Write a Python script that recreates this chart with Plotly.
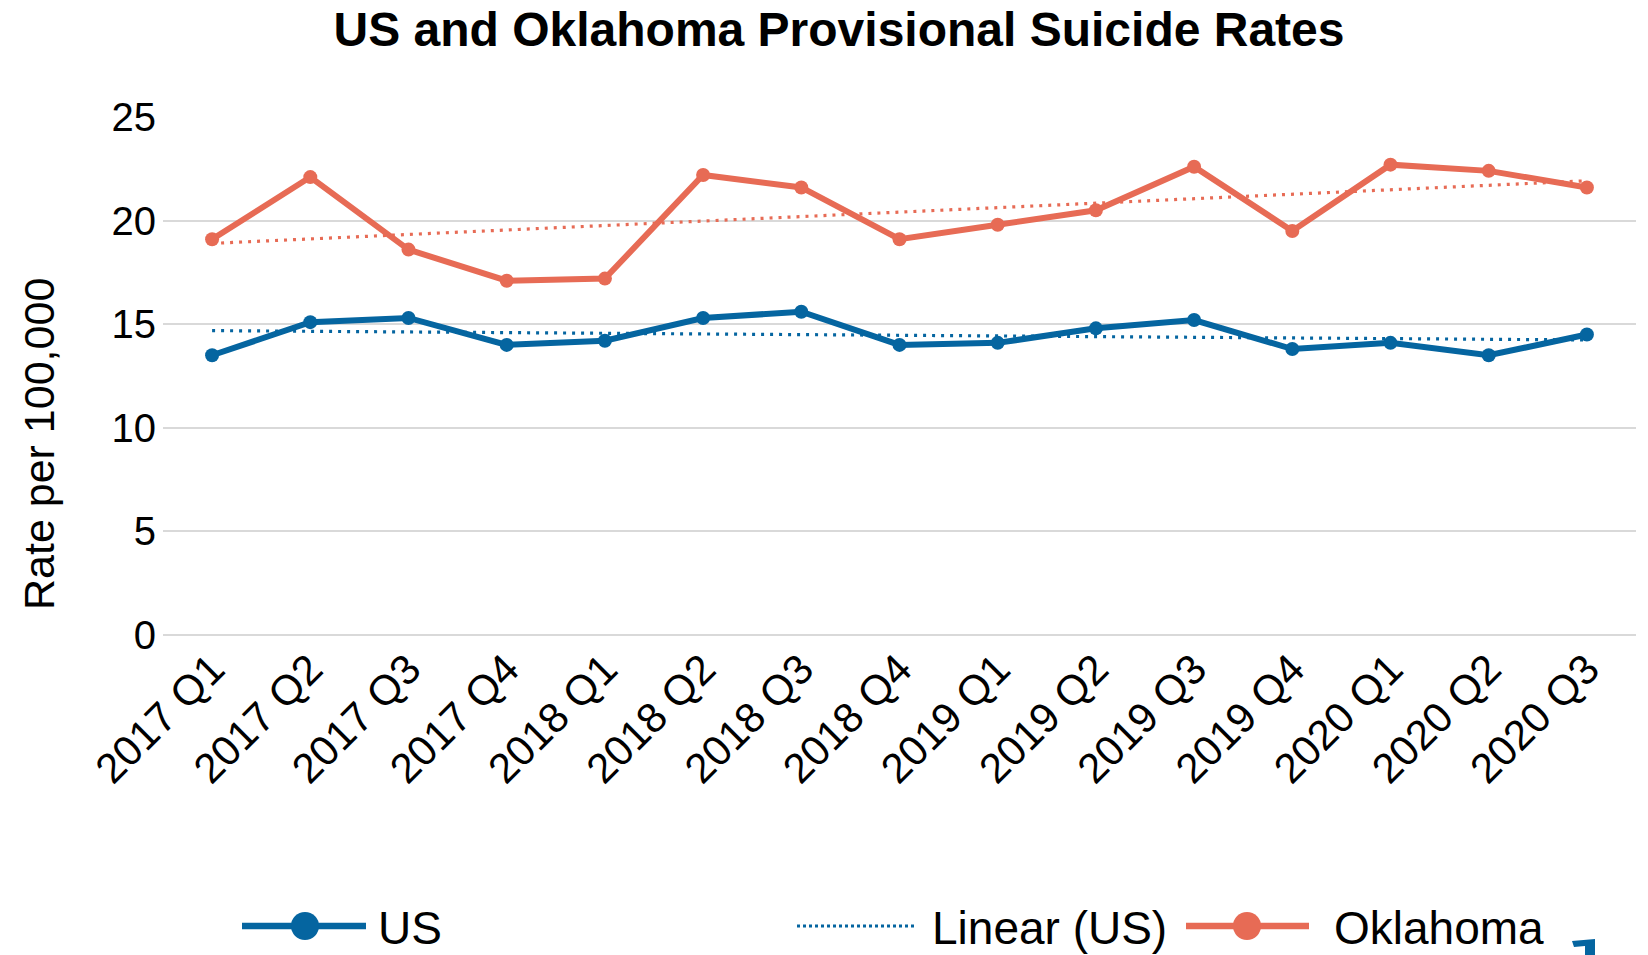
import plotly.graph_objects as go

# ---- data ----
quarters = ["2017 Q1", "2017 Q2", "2017 Q3", "2017 Q4",
            "2018 Q1", "2018 Q2", "2018 Q3", "2018 Q4",
            "2019 Q1", "2019 Q2", "2019 Q3", "2019 Q4",
            "2020 Q1", "2020 Q2", "2020 Q3"]
us_rate = [13.5, 15.1, 15.3, 14.0, 14.2, 15.3, 15.6, 14.0,
           14.1, 14.8, 15.2, 13.8, 14.1, 13.5, 14.5]
ok_rate = [19.1, 22.1, 18.6, 17.1, 17.2, 22.2, 21.6, 19.1,
           19.8, 20.5, 22.6, 19.5, 22.7, 22.4, 21.6]
# linear trend lines (endpoints)
trend_x = [quarters[0], quarters[-1]]
us_trend = [14.69, 14.24]
ok_trend = [18.90, 21.92]
y_ticks = [0, 5, 10, 15, 20, 25]

US_C = "#0565A0"
OK_C = "#E76B55"
FONT = "Liberation Sans"

W, H = 1648, 955
L, R, T, B = 163, 1636, 117, 635  # plot area pixel box


def px(x):
    return (x - L) / (R - L)


def py(y):
    return (B - y) / (B - T)


fig = go.Figure()
fig.add_trace(go.Scatter(x=quarters, y=us_rate, mode="lines+markers", name="US",
                         line=dict(color=US_C, width=6),
                         marker=dict(color=US_C, size=14), cliponaxis=False))
fig.add_trace(go.Scatter(x=quarters, y=ok_rate, mode="lines+markers", name="Oklahoma",
                         line=dict(color=OK_C, width=6),
                         marker=dict(color=OK_C, size=14), cliponaxis=False))
fig.add_trace(go.Scatter(x=trend_x, y=us_trend, mode="lines", name="Linear (US)",
                         line=dict(color=US_C, width=3.2, dash="3px,6px"), cliponaxis=False))
fig.add_trace(go.Scatter(x=trend_x, y=ok_trend, mode="lines", name="Linear (Oklahoma)",
                         line=dict(color=OK_C, width=3.2, dash="3px,6px"), cliponaxis=False))

shapes = []
annotations = []
# ---- manual legend (bottom) ----
LEG_Y = 926
LEG_FS = 46
items = [
    dict(x0=242, x1=366, mk=305, tx=376, text="US", color=US_C, dot=False),
    dict(x0=797, x1=914, mk=None, tx=930, text="Linear (US)", color=US_C, dot=True),
    dict(x0=1186, x1=1309, mk=1247, tx=1332, text="Oklahoma", color=OK_C, dot=False),
]
for it in items:
    shapes.append(dict(type="line", xref="paper", yref="paper",
                       x0=px(it["x0"]), x1=px(it["x1"]), y0=py(LEG_Y), y1=py(LEG_Y),
                       line=dict(color=it["color"], width=3 if it["dot"] else 6.5,
                                 dash="3px,3px" if it["dot"] else "solid")))
    if it["mk"] is not None:
        r = 14
        shapes.append(dict(type="circle", xref="paper", yref="paper",
                           x0=px(it["mk"] - r), x1=px(it["mk"] + r),
                           y0=py(LEG_Y + r), y1=py(LEG_Y - r),
                           fillcolor=it["color"], line=dict(width=0)))
    annotations.append(dict(xref="paper", yref="paper", x=px(it["tx"]), y=py(LEG_Y + 2),
                            xanchor="left", yanchor="middle", showarrow=False,
                            text=it["text"], font=dict(family=FONT, size=LEG_FS, color="black")))

# clipped start of the next legend row
path = "M {a},{b} L {c},{d} L {c},{e} L {f},{e} L {f},{g} L {h},{i} Z".format(
    a=px(1572), b=py(941), c=px(1595), d=py(939), e=py(955), f=px(1585), g=py(946),
    h=px(1574), i=py(947))
shapes.append(dict(type="path", xref="paper", yref="paper", path=path,
                   fillcolor=US_C, line=dict(width=0)))

# y-axis title
annotations.append(dict(xref="paper", yref="paper", x=px(39), y=py(444),
                        xanchor="center", yanchor="middle", textangle=-90, showarrow=False,
                        text="Rate per 100,000", font=dict(family=FONT, size=43, color="black")))

fig.update_layout(
    width=W, height=H,
    margin=dict(l=L, r=W - R, t=T, b=H - B, pad=0),
    paper_bgcolor="white", plot_bgcolor="white",
    showlegend=False,
    font=dict(family=FONT, color="black"),
    title=dict(text="<b>US and Oklahoma Provisional Suicide Rates</b>",
               x=839 / W, xref="container", xanchor="center",
               y=1 - 29 / H, yref="container", yanchor="middle",
               font=dict(family=FONT, size=48, color="black")),
    xaxis=dict(type="category", categoryorder="array", categoryarray=quarters,
               range=[-0.5, len(quarters) - 0.5],
               tickmode="array", tickvals=quarters, ticktext=quarters,
               tickangle=-45, tickfont=dict(family=FONT, size=42, color="black"),
               showgrid=False, showline=False, zeroline=False, ticks="",
               automargin=False),
    yaxis=dict(range=[0, 25], tickmode="array", tickvals=y_ticks,
               tickfont=dict(family=FONT, size=40, color="black"),
               showgrid=True, gridcolor="#D9D9D9", gridwidth=2,
               zeroline=True, zerolinecolor="#D9D9D9", zerolinewidth=2,
               showline=False, ticks="", ticklabelstandoff=6, automargin=False),
    shapes=shapes,
    annotations=annotations,
)

fig.write_html("out.html")
